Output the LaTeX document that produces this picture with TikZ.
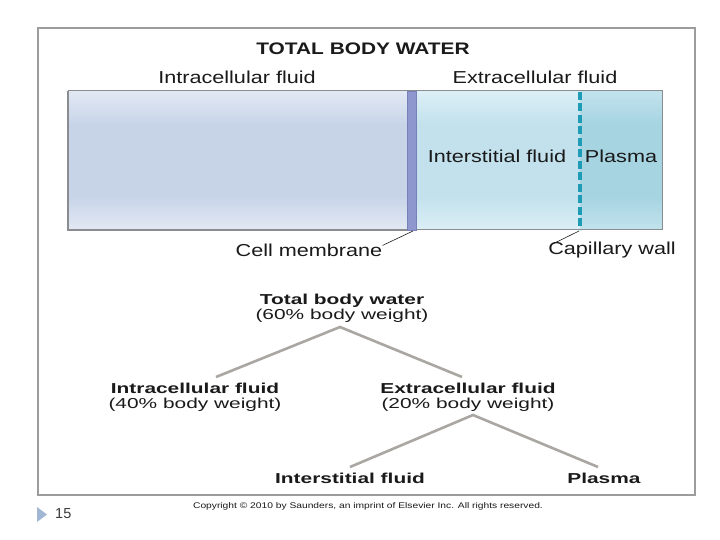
\documentclass[tikz,border=0pt]{standalone}
\usepackage{fontspec}
\newfontfamily\figfont[FakeStretch=1.25]{Liberation Sans}
\newfontfamily\treefont[FakeStretch=1.45]{Liberation Sans}
\newfontfamily\slidefont{Liberation Sans}
\definecolor{Frame}{HTML}{9C9C9C}
\definecolor{BoxLine}{HTML}{8A8C90}
\definecolor{IcfEdge}{HTML}{E3E9F4}
\definecolor{IcfMid}{HTML}{C7D4E8}
\definecolor{IsfEdge}{HTML}{DCEFF6}
\definecolor{IsfMid}{HTML}{C2E1EC}
\definecolor{PlEdge}{HTML}{C2E3ED}
\definecolor{PlMid}{HTML}{A6D4E1}
\definecolor{Membrane}{HTML}{8E98CE}
\definecolor{MembraneLine}{HTML}{7880BA}
\definecolor{Capillary}{HTML}{1F9CB5}
\definecolor{Branch}{HTML}{AAA7A2}
\definecolor{Ink}{HTML}{1A1A1A}
\definecolor{Bullet}{HTML}{A2B7D3}
\definecolor{SlideText}{HTML}{3A3A3A}
\usepackage{tikz}
\usetikzlibrary{positioning}
\pgfdeclareverticalshading{icfshade}{100bp}{color(0bp)=(IcfEdge); color(25bp)=(IcfEdge);
  color(37bp)=(IcfMid); color(63bp)=(IcfMid); color(75bp)=(IcfEdge); color(100bp)=(IcfEdge)}
\pgfdeclareverticalshading{isfshade}{100bp}{color(0bp)=(IsfEdge); color(25bp)=(IsfEdge);
  color(37bp)=(IsfMid); color(63bp)=(IsfMid); color(75bp)=(IsfEdge); color(100bp)=(IsfEdge)}
\pgfdeclareverticalshading{plshade}{100bp}{color(0bp)=(PlEdge); color(25bp)=(PlEdge);
  color(37bp)=(PlMid); color(63bp)=(PlMid); color(75bp)=(PlEdge); color(100bp)=(PlEdge)}
\tikzset{
  label/.style={inner sep=0pt,text=Ink,font=\figfont\fontsize{17.3}{17}\selectfont},
  title/.style={label,font=\figfont\bfseries\fontsize{16.7}{17}\selectfont},
  treelabel/.style={inner sep=0pt,text=Ink,align=center,
    font=\treefont\fontsize{14.4}{15}\selectfont},
  branch/.style={draw=Branch,line width=2.6pt},
  leader/.style={draw=Ink,line width=0.6pt}
}

\begin{document}
\begin{tikzpicture}[x=1pt,y=-1pt]
  \useasboundingbox[fill=white] (0,0) rectangle (720,540);
  \draw[Frame,line width=2pt] (38,28) rectangle (695,495);
  % compartments
  \fill[shading=icfshade] (68,91) rectangle (407,230);
  \fill[shading=isfshade] (416,91) rectangle (580,230);
  \fill[shading=plshade] (580,91) rectangle (662,230);
  \draw[BoxLine,line width=1pt] (68,91) rectangle (662,230);
  \draw[BoxLine,line width=1.6pt] (68,91) -- (68,230) -- (407,230);
  \filldraw[fill=Membrane,draw=MembraneLine,line width=0.6pt] (407,91) rectangle (416,230);
  \draw[Capillary,line width=4pt,dash pattern=on 8pt off 3.5pt] (580,92) -- (580,230);

  \node[title] (tbwtitle) at (363,49) {TOTAL BODY WATER};
  \node[label] (icfhead) at (237,77) {Intracellular fluid};
  \node[label] (ecfhead) at (535,77) {Extracellular fluid};
  \node[label] (isfin) at (497,156) {Interstitial fluid};
  \node[label] (plin) at (621,156) {Plasma};
  \node[label] (cellmem) at (309,250) {Cell membrane};
  \node[label] (capwall) at (612,250) {Capillary wall};
  \coordinate (memfoot) at (413,231);
  \coordinate (capfoot) at (579,231);
  \draw[leader] (memfoot) -- ([yshift=-2pt]cellmem.north east);
  \draw[leader] (capfoot) -- ([xshift=5pt,yshift=-2pt]capwall.north west);

  % breakdown tree
  \node[treelabel] (tbw) at (342,308) {\textbf{Total body water}\\(60\% body weight)};
  \node[treelabel] (icf) at (195,397) {\textbf{Intracellular fluid}\\(40\% body weight)};
  \node[treelabel] (ecf) at (468,397.5) {\textbf{Extracellular fluid}\\(20\% body weight)};
  \node[treelabel] (isf) at (350,478) {\textbf{Interstitial fluid}};
  \node[treelabel] (pl) at (604,478) {\textbf{Plasma}};
  \coordinate (tbwapex) at (340,327);
  \coordinate (icftop) at (216,377);
  \coordinate (ecftop) at (462,377);
  \coordinate (ecfapex) at (473,415);
  \coordinate (isftop) at (350,467);
  \coordinate (pltop) at (598,467);
  \draw[branch] (icftop) -- (tbwapex) -- (ecftop);
  \draw[branch] (isftop) -- (ecfapex) -- (pltop);

  \node[inner sep=0pt,text=Ink,font=\figfont\fontsize{8.2}{8}\selectfont] (copy) at (368,506)
    {Copyright \textcopyright{} 2010 by Saunders, an imprint of Elsevier Inc. All rights reserved.};
  \fill[Bullet] (37,507) -- (47,514.5) -- (37,522) -- cycle;
  \node[inner sep=0pt,anchor=west,text=SlideText,font=\slidefont\fontsize{14.5}{14}\selectfont] (slideno) at (55,514) {15};
\end{tikzpicture}
\end{document}
